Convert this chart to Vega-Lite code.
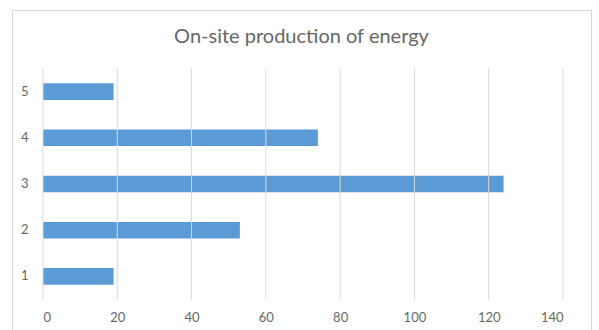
{
  "$schema": "https://vega.github.io/schema/vega-lite/v6.json",
  "width": 579,
  "height": 322,
  "autosize": {"type": "none"},
  "padding": {"left": 12, "top": 10, "right": 8, "bottom": 0},
  "background": "white",
  "config": {
    "view": {"stroke": "#d9d9d9", "strokeWidth": 1, "fill": "white"},
    "font": "Lato"
  },
  "title": {
    "text": "On-site production of energy",
    "anchor": "middle",
    "offset": -37,
    "fontSize": 20,
    "fontWeight": "normal",
    "color": "#666666",
    "font": "Lato"
  },
  "datasets": {
    "energy": [
      {"category": "1", "energy": 19},
      {"category": "2", "energy": 53},
      {"category": "3", "energy": 124},
      {"category": "4", "energy": 74},
      {"category": "5", "energy": 19}
    ],
    "gridlines": [
      {"tick": 0}, {"tick": 20}, {"tick": 40}, {"tick": 60},
      {"tick": 80}, {"tick": 100}, {"tick": 120}, {"tick": 140}
    ]
  },
  "resolve": {"scale": {"y": "independent"}, "axis": {"y": "independent"}},
  "layer": [
    {
      "data": {"name": "energy"},
      "mark": {"type": "bar", "color": "#5B9BD5"},
      "encoding": {
        "y": {
          "field": "category",
          "type": "nominal",
          "sort": "descending",
          "scale": {"range": [58.5, 289.5], "paddingInner": 0.64, "paddingOuter": 0.32},
          "axis": {
            "title": null,
            "domain": false,
            "ticks": false,
            "grid": false,
            "labelPadding": -16,
            "labelAlign": "right",
            "labelFontSize": 13,
            "labelColor": "#666666",
            "labelFont": "Lato"
          }
        },
        "x": {
          "field": "energy",
          "type": "quantitative",
          "scale": {"domain": [0, 140], "range": [31, 551], "nice": false},
          "axis": {
            "title": null,
            "values": [0, 20, 40, 60, 80, 100, 120, 140],
            "domain": false,
            "ticks": false,
            "grid": false,
            "labelPadding": -15,
            "labelBaseline": "middle",
            "labelFontSize": 13,
            "labelColor": "#666666",
            "labelFont": "Lato"
          }
        }
      }
    },
    {
      "data": {"name": "gridlines"},
      "mark": {"type": "rule", "color": "#d9d9d9", "strokeWidth": 1},
      "encoding": {
        "x": {"field": "tick", "type": "quantitative"},
        "y": {
          "datum": 0,
          "type": "quantitative",
          "scale": {"domain": [0, 1], "range": [289.5, 58.5]},
          "axis": null
        },
        "y2": {"datum": 1}
      }
    }
  ]
}
